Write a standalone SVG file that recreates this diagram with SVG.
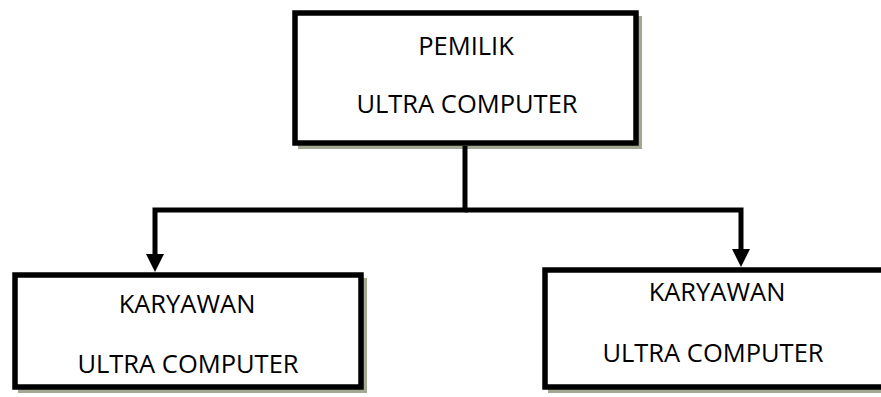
<svg xmlns="http://www.w3.org/2000/svg" width="881" height="397" viewBox="0 0 881 397">
<style>
.box{fill:#fff;stroke:#000;stroke-width:5.5}
.shadow{fill:#a3a892}
.conn{fill:none;stroke:#000;stroke-width:5;stroke-linejoin:miter}
text{font-family:"Open Sans","Liberation Sans",sans-serif;font-size:25.5px;fill:#000;text-anchor:middle}
</style>
<defs>
<marker id="arr" viewBox="0 0 18 18" refX="8" refY="9" markerWidth="18" markerHeight="18" markerUnits="userSpaceOnUse" orient="auto">
<path d="M0,0 L18,9 L0,18 z" fill="#000"/>
</marker>
</defs>
<g id="pemilik">
<rect class="shadow" x="298" y="16" width="344" height="133"/>
<rect class="box" x="295" y="13" width="341" height="130"/>
<text x="466" y="55">PEMILIK</text>
<text x="467" y="113">ULTRA COMPUTER</text>
</g>
<g id="karyawan1">
<rect class="shadow" x="18" y="278" width="349" height="115"/>
<rect class="box" x="15" y="275" width="346" height="112"/>
<text x="187" y="313">KARYAWAN</text>
<text x="188" y="373">ULTRA COMPUTER</text>
</g>
<g id="karyawan2">
<rect class="shadow" x="548" y="273" width="340" height="120"/>
<rect class="box" x="545" y="270" width="340" height="117"/>
<text x="717" y="301">KARYAWAN</text>
<text x="713" y="362">ULTRA COMPUTER</text>
</g>
<g id="connectors">
<path class="conn" d="M465,146 V210 H155 V262" marker-end="url(#arr)"/>
<path class="conn" d="M465,210 H741 V257" marker-end="url(#arr)"/>
</g>
</svg>
